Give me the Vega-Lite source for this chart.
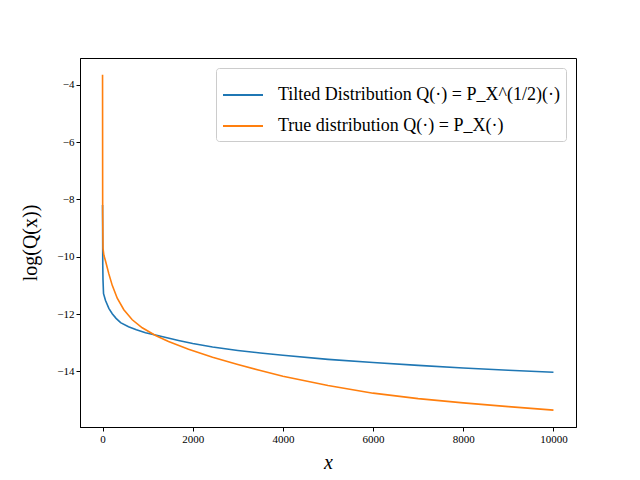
{
  "$schema": "https://vega.github.io/schema/vega-lite/v6.json",
  "width": 496,
  "height": 369,
  "autosize": {"type": "none"},
  "padding": {"left": 80, "top": 58, "right": 64, "bottom": 53},
  "background": "white",
  "config": {
    "font": "Liberation Serif",
    "view": {"stroke": "black", "strokeWidth": 1},
    "axis": {"domainColor": "black", "tickColor": "black", "labelColor": "black", "titleColor": "black", "grid": false, "labelFont": "Liberation Serif", "titleFont": "Liberation Serif", "labelFontSize": 11, "tickSize": 4, "titleFontWeight": "normal", "titleFontSize": 20}
  },
  "data": {"values": [
    {"x": 0, "y": -8.2, "s": "Tilted"},
    {"x": 5, "y": -10.3, "s": "Tilted"},
    {"x": 10, "y": -10.8, "s": "Tilted"},
    {"x": 22, "y": -11.29, "s": "Tilted"},
    {"x": 66, "y": -11.53, "s": "Tilted"},
    {"x": 140, "y": -11.8, "s": "Tilted"},
    {"x": 215, "y": -11.99, "s": "Tilted"},
    {"x": 300, "y": -12.15, "s": "Tilted"},
    {"x": 400, "y": -12.3, "s": "Tilted"},
    {"x": 576, "y": -12.44, "s": "Tilted"},
    {"x": 750, "y": -12.55, "s": "Tilted"},
    {"x": 953, "y": -12.65, "s": "Tilted"},
    {"x": 1220, "y": -12.75, "s": "Tilted"},
    {"x": 1685, "y": -12.92, "s": "Tilted"},
    {"x": 2000, "y": -13.03, "s": "Tilted"},
    {"x": 2440, "y": -13.15, "s": "Tilted"},
    {"x": 3000, "y": -13.27, "s": "Tilted"},
    {"x": 3500, "y": -13.36, "s": "Tilted"},
    {"x": 4000, "y": -13.44, "s": "Tilted"},
    {"x": 5000, "y": -13.58, "s": "Tilted"},
    {"x": 6000, "y": -13.69, "s": "Tilted"},
    {"x": 7000, "y": -13.79, "s": "Tilted"},
    {"x": 8000, "y": -13.88, "s": "Tilted"},
    {"x": 9000, "y": -13.96, "s": "Tilted"},
    {"x": 10000, "y": -14.03, "s": "Tilted"},
    {"x": 0, "y": -3.65, "s": "True"},
    {"x": 3, "y": -8.5, "s": "True"},
    {"x": 10, "y": -9.7, "s": "True"},
    {"x": 30, "y": -9.95, "s": "True"},
    {"x": 66, "y": -10.15, "s": "True"},
    {"x": 140, "y": -10.6, "s": "True"},
    {"x": 215, "y": -11.0, "s": "True"},
    {"x": 326, "y": -11.45, "s": "True"},
    {"x": 472, "y": -11.85, "s": "True"},
    {"x": 659, "y": -12.2, "s": "True"},
    {"x": 880, "y": -12.48, "s": "True"},
    {"x": 1175, "y": -12.75, "s": "True"},
    {"x": 1463, "y": -12.96, "s": "True"},
    {"x": 1907, "y": -13.23, "s": "True"},
    {"x": 2440, "y": -13.51, "s": "True"},
    {"x": 3000, "y": -13.76, "s": "True"},
    {"x": 3500, "y": -13.97, "s": "True"},
    {"x": 4000, "y": -14.17, "s": "True"},
    {"x": 5000, "y": -14.49, "s": "True"},
    {"x": 6000, "y": -14.76, "s": "True"},
    {"x": 7000, "y": -14.95, "s": "True"},
    {"x": 8000, "y": -15.1, "s": "True"},
    {"x": 9000, "y": -15.23, "s": "True"},
    {"x": 10000, "y": -15.35, "s": "True"}
  ]},
  "mark": {"type": "line", "strokeWidth": 1.6, "clip": true},
  "encoding": {
    "x": {"field": "x", "type": "quantitative", "scale": {"domain": [-500, 10500], "nice": false, "zero": false},
      "axis": {"values": [0, 2000, 4000, 6000, 8000, 10000], "format": "d", "title": "x", "titleFontStyle": "italic", "titlePadding": 8}},
    "y": {"field": "y", "type": "quantitative", "scale": {"domain": [-15.94, -3.07], "nice": false, "zero": false},
      "axis": {"values": [-4, -6, -8, -10, -12, -14], "title": "log(Q(x))", "titlePadding": 16}},
    "color": {"field": "s", "type": "nominal",
      "scale": {"domain": ["Tilted", "True"], "range": ["#1f77b4", "#ff7f0e"]},
      "legend": {"title": null, "orient": "top-right", "offset": 10,
        "labelExpr": "datum.value == 'Tilted' ? 'Tilted Distribution Q(·) = P_X^(1/2)(·)' : 'True distribution Q(·) = P_X(·)'",
        "labelFontSize": 18, "labelFont": "Liberation Serif", "labelColor": "black", "labelLimit": 400,
        "symbolType": "stroke", "symbolSize": 1600, "symbolStrokeWidth": 2, "labelOffset": 14,
        "fillColor": "white", "strokeColor": "#cccccc", "cornerRadius": 3, "padding": 6, "rowPadding": 1}}
  }
}
